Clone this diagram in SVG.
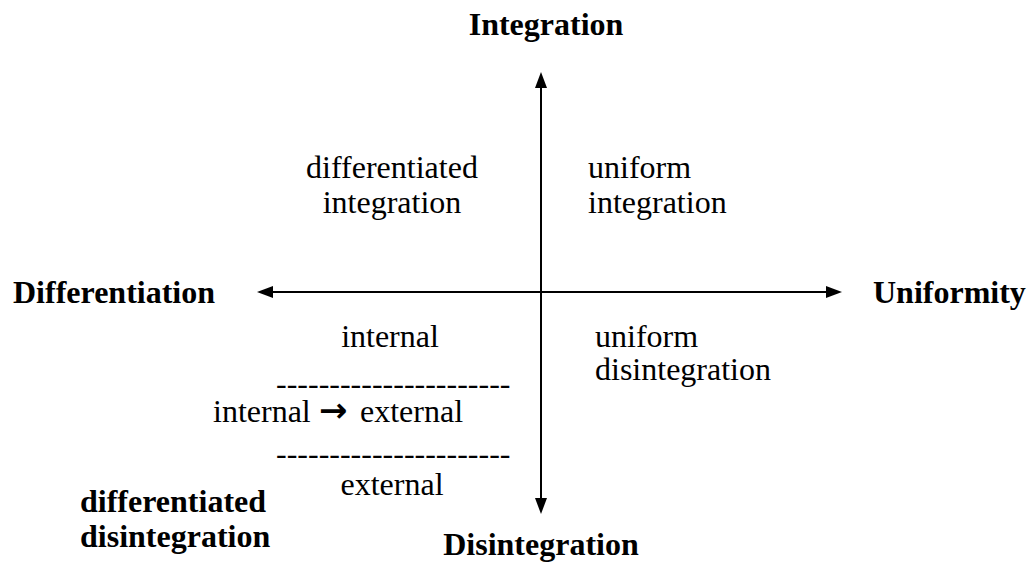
<svg xmlns="http://www.w3.org/2000/svg" width="1029" height="569" viewBox="0 0 1029 569">
  <style>
    .t { font-family: "Liberation Serif", "Times New Roman", serif; font-size: 32px; fill: #000; }
    .b { font-weight: bold; }
    .arr { font-family: "DejaVu Sans", sans-serif; font-weight: bold; font-size: 34px; }
    .axis { stroke: #000; stroke-width: 2; fill: none; }
  </style>
  <defs>
    <marker id="ah" markerUnits="userSpaceOnUse" markerWidth="16" markerHeight="12" refX="0" refY="6" orient="auto-start-reverse" overflow="visible">
      <path d="M0,0 L16,6 L0,12 Z" fill="#000"/>
    </marker>
  </defs>
  <rect width="1029" height="569" fill="#fff"/>

  <g id="connectors">
    <line class="axis" x1="541" y1="88" x2="541" y2="498" marker-start="url(#ah)" marker-end="url(#ah)"/>
    <line class="axis" x1="273" y1="292" x2="826" y2="292" marker-start="url(#ah)" marker-end="url(#ah)"/>
  </g>

  <g id="integration"><text class="t b" x="546" y="35" text-anchor="middle">Integration</text></g>
  <g id="disintegration"><text class="t b" x="541" y="555" text-anchor="middle">Disintegration</text></g>
  <g id="differentiation"><text class="t b" x="13" y="303">Differentiation</text></g>
  <g id="uniformity"><text class="t b" x="873" y="303">Uniformity</text></g>

  <g id="differentiated-integration">
    <text class="t" x="392" y="178" text-anchor="middle">differentiated</text>
    <text class="t" x="392" y="213" text-anchor="middle">integration</text>
  </g>
  <g id="uniform-integration">
    <text class="t" x="588" y="178">uniform</text>
    <text class="t" x="588" y="213">integration</text>
  </g>
  <g id="uniform-disintegration">
    <text class="t" x="595" y="347">uniform</text>
    <text class="t" x="595" y="380">disintegration</text>
  </g>
  <g id="differentiated-disintegration-detail">
    <text class="t" x="390" y="347" text-anchor="middle">internal</text>
    <text class="t" x="276" y="394">----------------------</text>
    <text class="t" x="213" y="422">internal<tspan class="arr" x="319">→</tspan><tspan x="360">external</tspan></text>
    <text class="t" x="276" y="464">----------------------</text>
    <text class="t" x="392" y="495" text-anchor="middle">external</text>
  </g>
  <g id="differentiated-disintegration">
    <text class="t b" x="80" y="512">differentiated</text>
    <text class="t b" x="80" y="547">disintegration</text>
  </g>
</svg>
